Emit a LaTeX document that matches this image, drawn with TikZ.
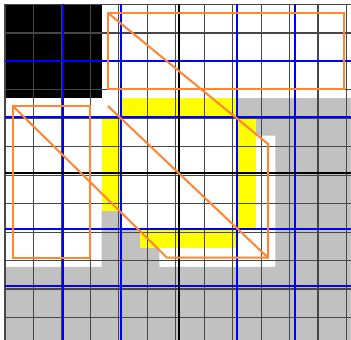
\documentclass[tikz,border=0pt]{standalone}
\definecolor{orng}{RGB}{255,133,48}
\definecolor{grayfill}{RGB}{193,193,193}
\definecolor{yel}{RGB}{255,255,0}
\definecolor{blu}{RGB}{0,0,255}
\begin{document}
\begin{tikzpicture}[x=19.31pt,y=-18.74pt,
  gridline/.style={draw=black!72,line width=1.1pt},
  blueline/.style={draw=blu,line width=1.8pt},
  centerline/.style={draw=black,line width=2.3pt},
  orect/.style={draw=orng,line width=2.8pt},
  oline/.style={draw=orng,line width=2pt,line join=miter}]
\useasboundingbox (-0.259,-0.24) rectangle (17.918,17.85);
\clip (-0.259,-0.24) rectangle (17.918,17.85);
\fill[white] (-0.259,-0.24) rectangle (17.918,17.85);
% black block
\fill[black] (0,0) rectangle (5,5);
% gray occupied area
\fill[grayfill] (0,14) rectangle (18,18)
  (12,5) -- (18,5) -- (18,14) -- (14,14) -- (14,7) -- (13,7) -- (13,6) -- (12,6) -- cycle
  (5,11) -- (6,11) -- (6,12) -- (8,12) -- (8,14) -- (5,14) -- cycle;
% yellow cells
\fill[yel] (6,5) rectangle (12,6);
\fill[yel] (12,6) rectangle (13,12);
\fill[yel] (5,6) rectangle (6,11);
\fill[yel] (7,12) rectangle (12,13);
% grid
\draw[gridline] (0,0) grid (18,18);
\foreach \i in {3,6,12,15} {
  \draw[blueline] (\i,0) -- (\i,18);
  \draw[blueline] (0,\i) -- (18,\i);
}
\draw[centerline] (9,0) -- (9,18) (0,9) -- (18,9);
% orange shapes
\draw[orect] (5.33,0.45) rectangle (17.56,4.51);
\draw[orect] (0.41,5.42) rectangle (4.40,13.53);
\draw[oline] (5.33,0.45) -- (13.62,7.44) -- (13.62,13.51) -- (8.39,13.51) -- (0.41,5.42);
\draw[oline] (5.33,5.42) -- (13.62,13.51);
\end{tikzpicture}
\end{document}
